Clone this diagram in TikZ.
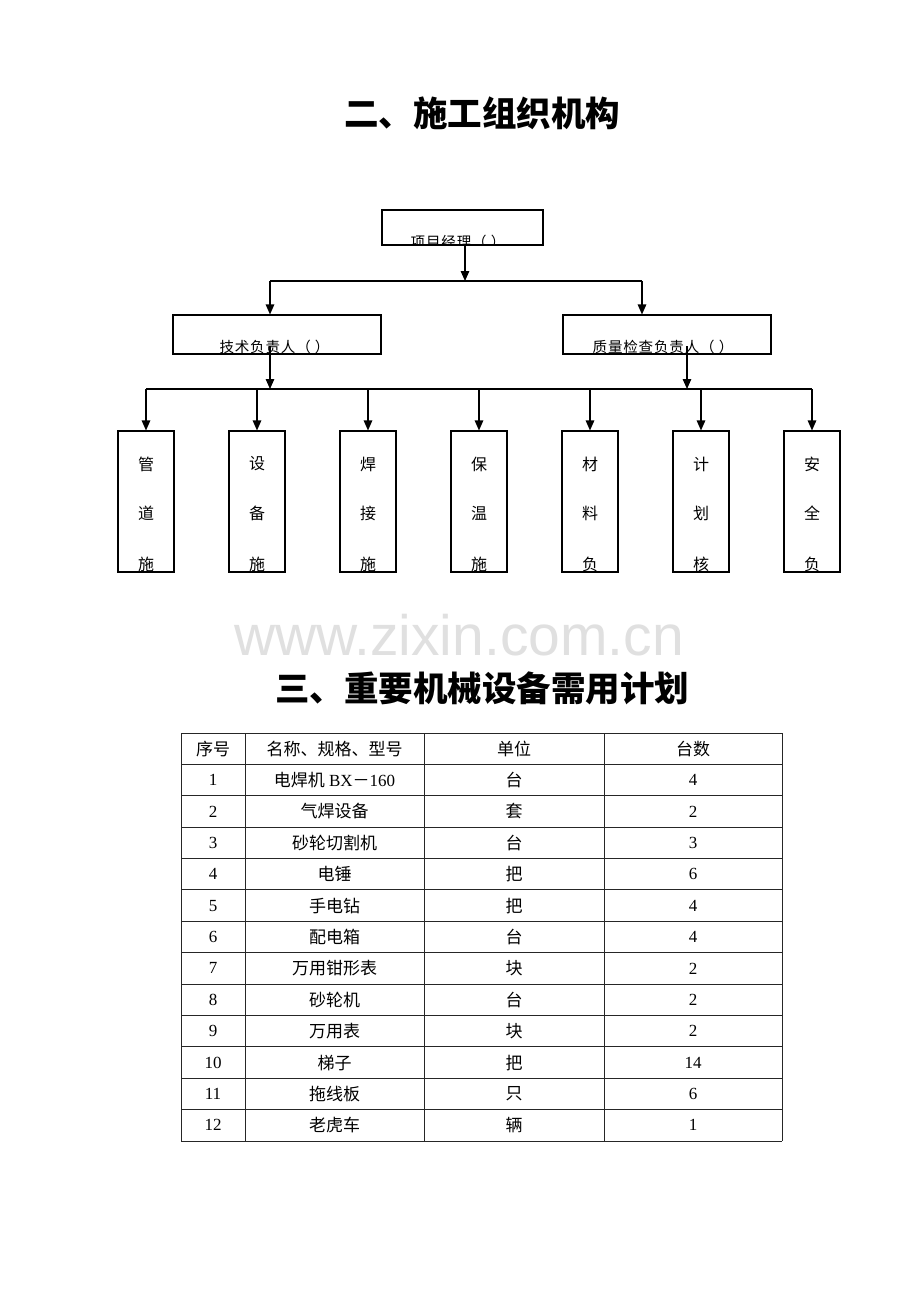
\documentclass[tikz,border=0pt]{standalone}
\usepackage{fontspec}
\setmainfont{Liberation Serif}
\newfontfamily\cjk{Noto Sans CJK SC}
\newfontfamily\cjksp[LetterSpace=6]{Noto Sans CJK SC}
\newfontfamily\wmfont{Liberation Sans}
\usetikzlibrary{arrows.meta}
\newcommand{\zh}[1]{{\cjk #1}}
\begin{document}
\begin{tikzpicture}[x=1pt,y=-1pt,
  conn/.style={line width=1.3pt},
  arr/.style={line width=1.3pt,-{Triangle[width=8.5pt,length=10pt]}},
  orgbox/.style={draw,line width=1.1pt,inner sep=0pt},
  boxtxt/.style={inner sep=0pt,font=\cjksp\fontsize{14.5}{14.5}\selectfont},
  coltxt/.style={inner sep=0pt,font=\cjk\fontsize{16}{16}\selectfont},
  title/.style={inner sep=0pt,font=\cjk\bfseries\fontsize{34.5}{34.5}\selectfont},
  cell/.style={inner sep=0pt,font=\fontsize{17}{17}\selectfont},
  grid/.style={line width=0.9pt,draw=black!85}]
\useasboundingbox (0,0) rectangle (920,1302);
\fill[white] (0,0) rectangle (920,1302);

% Title 1
\node[title] (t1) at (482,113) {二、施工组织机构};

% Top box
\node[orgbox,minimum width=161pt,minimum height=35pt] (pm) at (462.5,227.5) {};
\begin{scope}
\clip (382,210) rectangle (543,245);
\node[boxtxt] (pmt) at (458,241.5) {项目经理（ ）};
\end{scope}

% Second level
\node[orgbox,minimum width=208pt,minimum height=39pt] (tech) at (277,334.5) {};
\node[orgbox,minimum width=208pt,minimum height=39pt] (qc) at (667,334.5) {};
\begin{scope}
\clip (173,315) rectangle (381,354);
\node[boxtxt] (techt) at (274.5,347) {技术负责人（ ）};
\end{scope}
\begin{scope}
\clip (563,315) rectangle (771,354);
\node[boxtxt] (qct) at (663,347) {质量检查负责人（ ）};
\end{scope}

\coordinate (j1) at (465,281);
\coordinate (j1l) at (270,281);
\coordinate (j1r) at (642,281);
\draw[arr] (pm.south -| j1) -- (j1);
\draw[conn] (j1l) -- (j1r);
\draw[arr] (j1l) -- (j1l |- tech.north);
\draw[arr] (j1r) -- (j1r |- qc.north);

\coordinate (j2l) at (146,389);
\coordinate (j2r) at (812,389);
\coordinate (ta) at (270,346);
\coordinate (qa) at (687,346);
\draw[arr] (ta) -- (ta |- j2l);
\draw[arr] (qa) -- (qa |- j2l);
\draw[conn] (j2l) -- (j2r);

% Bottom boxes
\foreach \i/\x/\a/\b/\c in {1/146/管/道/施,2/257/设/备/施,3/368/焊/接/施,4/479/保/温/施,5/590/材/料/负,6/701/计/划/核,7/812/安/全/负}{
  \node[orgbox,minimum width=56pt,minimum height=141pt] (d\i) at (\x,501.5) {};
  \coordinate (top\i) at (\x,389);
  \draw[arr] (top\i) -- (d\i.north);
  \node[coltxt] (d\i a) at (\x,464) {\a};
  \node[coltxt] (d\i b) at (\x,513) {\b};
  \begin{scope}
  \clip (\x-28,431) rectangle (\x+28,572);
  \node[coltxt] (d\i c) at (\x,564) {\c};
  \end{scope}
}

% Watermark
\node[inner sep=0pt,text=black!12,font=\wmfont\fontsize{57}{57}\selectfont] (wm) at (459,635) {www.zixin.com.cn};

% Title 2
\node[title] (t2) at (482,688) {三、重要机械设备需用计划};

% Table
\def\rh{31.385}
\foreach \r in {0,...,13}{
  \draw[grid] (181,733+\r*\rh) -- (782,733+\r*\rh);
}
\foreach \cx in {181,245,424,604,782}{
  \draw[grid] (\cx,733) -- (\cx,1141);
}
\node[cell] (h1) at (213,733+0.5*\rh) {\zh{序号}};
\node[cell] (h2) at (334.5,733+0.5*\rh) {\zh{名称、规格、型号}};
\node[cell] (h3) at (514,733+0.5*\rh) {\zh{单位}};
\node[cell] (h4) at (693,733+0.5*\rh) {\zh{台数}};
\foreach \n/\nm/\u/\q in {
  1/{\zh{电焊机} BX\zh{－}160}/台/4,
  2/\zh{气焊设备}/套/2,
  3/\zh{砂轮切割机}/台/3,
  4/\zh{电锤}/把/6,
  5/\zh{手电钻}/把/4,
  6/\zh{配电箱}/台/4,
  7/\zh{万用钳形表}/块/2,
  8/\zh{砂轮机}/台/2,
  9/\zh{万用表}/块/2,
  10/\zh{梯子}/把/14,
  11/\zh{拖线板}/只/6,
  12/\zh{老虎车}/辆/1}{
  \node[cell] (c\n a) at (213,733+\n*\rh+0.5*\rh) {\n};
  \node[cell] (c\n b) at (334.5,733+\n*\rh+0.5*\rh) {\nm};
  \node[cell] (c\n c) at (514,733+\n*\rh+0.5*\rh) {\zh{\u}};
  \node[cell] (c\n d) at (693,733+\n*\rh+0.5*\rh) {\q};
}
\end{tikzpicture}
\end{document}
